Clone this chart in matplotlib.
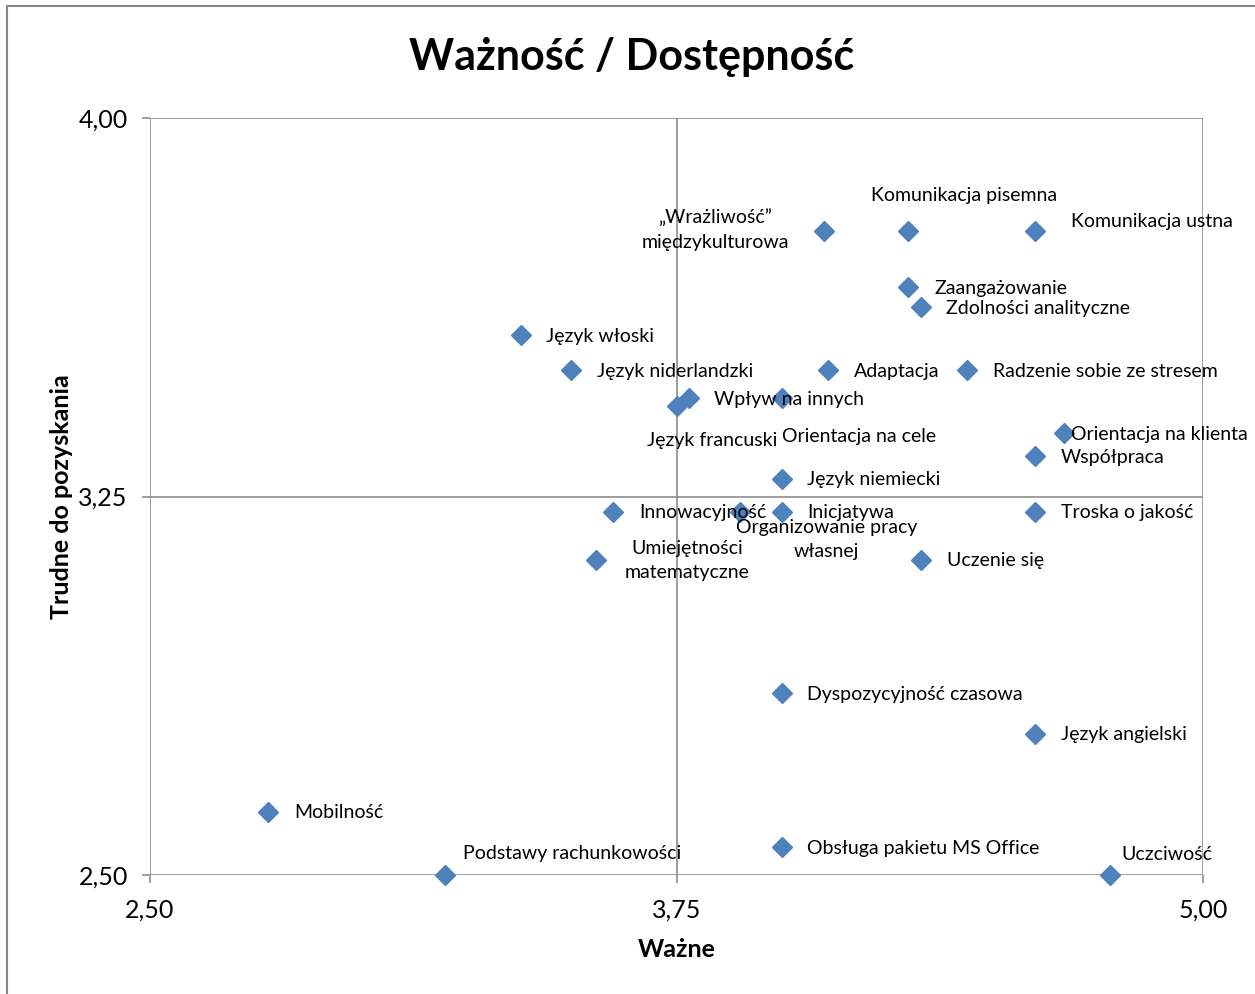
import matplotlib
matplotlib.use("Agg")
import matplotlib.pyplot as plt
from matplotlib.patches import Rectangle

plt.rcParams['font.family'] = ['Lato', 'DejaVu Sans']

labels = [
    "Mobilność", "Podstawy rachunkowości", "Język włoski", "Język niderlandzki",
    "Wpływ na innych", "Język francuski", "Orientacja na cele", "Język niemiecki",
    "Innowacyjność", "Organizowanie pracy\nwłasnej", "Inicjatywa",
    "Umiejętności\nmatematyczne", "Uczenie się", "Troska o jakość", "Współpraca",
    "Orientacja na klienta", "Radzenie sobie ze stresem", "Adaptacja",
    "Zaangażowanie", "Zdolności analityczne", "„Wrażliwość”\nmiędzykulturowa",
    "Komunikacja pisemna", "Komunikacja ustna", "Dyspozycyjność czasowa",
    "Język angielski", "Obsługa pakietu MS Office", "Uczciwość",
]
wazne = [2.78, 3.20, 3.38, 3.50, 3.78, 3.75, 4.00, 4.00, 3.60, 3.90, 4.00,
         3.56, 4.33, 4.60, 4.60, 4.67, 4.44, 4.11, 4.30, 4.33, 4.10,
         4.30, 4.60, 4.00, 4.60, 4.00, 4.78]
trudne = [2.625, 2.50, 3.57, 3.50, 3.445, 3.43, 3.445, 3.285, 3.22, 3.22, 3.22,
          3.125, 3.125, 3.22, 3.33, 3.375, 3.50, 3.50, 3.665, 3.625, 3.777,
          3.777, 3.777, 2.86, 2.78, 2.555, 2.50]
x_ticks = [2.50, 3.75, 5.00]
y_ticks = [2.50, 3.25, 4.00]
x_tick_labels = ["2,50", "3,75", "5,00"]
y_tick_labels = ["2,50", "3,25", "4,00"]

# label placement: (dx px, dy px (down positive), ha)
placement = {
    "Mobilność": (26, 1, 'left'),
    "Podstawy rachunkowości": (18, -21, 'left'),
    "Język włoski": (25, 1, 'left'),
    "Język niderlandzki": (26, 1, 'left'),
    "Wpływ na innych": (25, 1, 'left'),
    "Język francuski": (36, 35, 'center'),
    "Orientacja na cele": (0, 38, 'left'),
    "Język niemiecki": (25, 1, 'left'),
    "Innowacyjność": (26, 1, 'left'),
    "Organizowanie pracy\nwłasnej": (87, 28, 'center'),
    "Inicjatywa": (25, 1, 'left'),
    "Umiejętności\nmatematyczne": (91, 1, 'center'),
    "Uczenie się": (26, 1, 'left'),
    "Troska o jakość": (26, 1, 'left'),
    "Współpraca": (26, 1, 'left'),
    "Orientacja na klienta": (7, 1, 'left'),
    "Radzenie sobie ze stresem": (26, 1, 'left'),
    "Adaptacja": (26, 1, 'left'),
    "Zaangażowanie": (26, 1, 'left'),
    "Zdolności analityczne": (25, 1, 'left'),
    "„Wrażliwość”\nmiędzykulturowa": (-109, -1, 'center'),
    "Komunikacja pisemna": (56, -35, 'center'),
    "Komunikacja ustna": (36, -9, 'left'),
    "Dyspozycyjność czasowa": (25, 1, 'left'),
    "Język angielski": (26, 1, 'left'),
    "Obsługa pakietu MS Office": (25, 1, 'left'),
    "Uczciwość": (11, -21, 'left'),
}

W, H = 1255, 994
fig = plt.figure(figsize=(W / 100, H / 100), dpi=100)
fig.patches.append(Rectangle((7 / W, -0.1), 1.2, (1 - 6 / H) + 0.1,
                             transform=fig.transFigure, fill=False,
                             edgecolor='#868686', linewidth=1.5))
ax = fig.add_axes([150 / W, 1 - 875 / H, (1203 - 150) / W, (875 - 118) / H])
ax.set_xlim(2.5, 5.0)
ax.set_ylim(2.5, 4.0)

gcol = '#8c8c8c'
for v in x_ticks:
    ax.axvline(v, color=gcol, lw=1.2, zorder=1)
for v in y_ticks:
    ax.axhline(v, color=gcol, lw=1.2, zorder=1)
for s in ax.spines.values():
    s.set_visible(False)

ax.plot(wazne, trudne, linestyle='none', marker='D', markersize=10,
        color='#4F81BD', markeredgecolor='#4F81BD', zorder=3, clip_on=False)

for lab, xv, yv in zip(labels, wazne, trudne):
    dx, dy, ha = placement[lab]
    ax.annotate(lab, (xv, yv), xytext=(dx * 0.72, -dy * 0.72),
                textcoords='offset points', ha=ha, va='center',
                fontsize=14, color='black', zorder=4,
                multialignment='center', linespacing=1.55)

ax.set_xticks(x_ticks)
ax.set_xticklabels(x_tick_labels)
ax.set_yticks(y_ticks)
ax.set_yticklabels(y_tick_labels)
ax.tick_params(axis='both', labelsize=18, length=6, color=gcol, width=1.2)
ax.tick_params(axis='x', pad=11)
ax.tick_params(axis='y', pad=10)

ax.set_xlabel("Ważne", fontsize=18, fontweight='bold', labelpad=12)
ax.set_ylabel("Trudne do pozyskania", fontsize=18, fontweight='bold', labelpad=4)
fig.text(632 / W, 1 - 57 / H, "Ważność / Dostępność", ha='center', va='center',
         fontsize=31, fontweight='bold')

fig.savefig("out.png", dpi=100, facecolor='white')
